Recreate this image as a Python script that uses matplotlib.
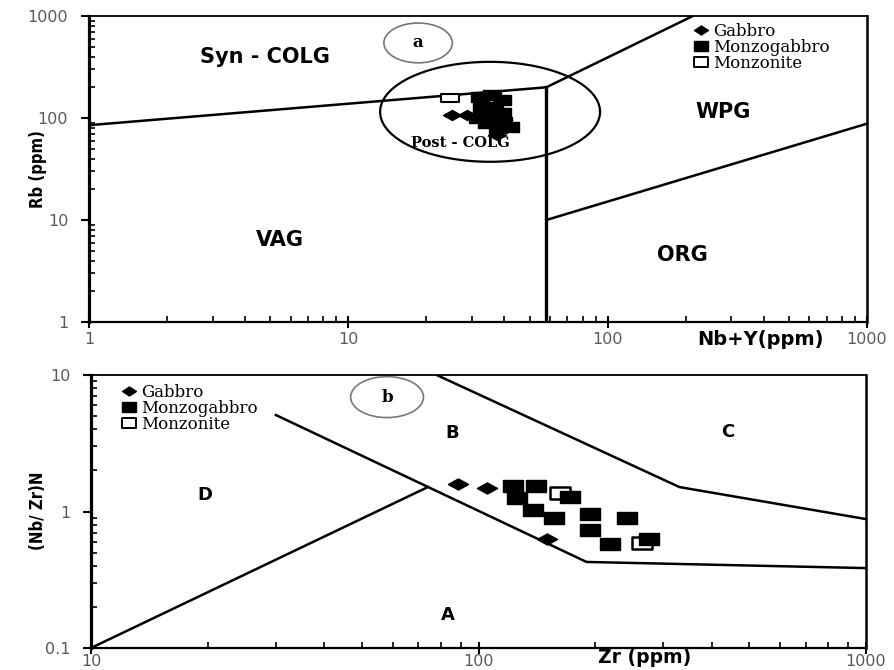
import numpy as np
import matplotlib
matplotlib.use('Agg')
import matplotlib.pyplot as plt
from matplotlib.path import Path
from matplotlib.patches import Ellipse
from matplotlib.lines import Line2D
from matplotlib.ticker import LogLocator, NullFormatter

# ---------------- Panel a : Rb vs Nb+Y ----------------
a_ticks = [1, 10, 100, 1000]
a_ticklabels = ['1', '10', '100', '1000']

a_gabbro_x = [25.0, 28.6, 37.3]
a_gabbro_y = [107, 107, 68]
a_monzogabbro_x = [32.2, 35.7, 32.7, 36.3, 31.7, 36.3, 39.6, 42.0, 34.2, 37.9, 39.0, 39.0]
a_monzogabbro_y = [162, 168, 124.5, 129, 99, 99, 92, 82, 89, 79, 150, 111]
a_monzonite_x = [24.7]
a_monzonite_y = [158]

# field boundaries (Pearce et al. 1984)
a_synvag_x, a_synvag_y = [1, 58], [85, 200]
a_synwpg_x, a_synwpg_y = [58, 213], [200, 1000]
a_vert_x, a_vert_y = [58, 58], [1, 200]
a_wpgorg_x, a_wpgorg_y = [58, 1000], [10, 88]
# post-COLG ellipse (centre, semi-axes in decades)
a_post_center = (35.2, 115)
a_post_semi = (0.424, 0.49)

# ---------------- Panel b : (Nb/Zr)N vs Zr ----------------
b_xticks = [10, 100, 1000]
b_xticklabels = ['10', '100', '1000']
b_yticks = [0.1, 1, 10]
b_yticklabels = ['0.1', '1', '10']

b_gabbro_x = [88.7, 105, 150]
b_gabbro_y = [1.58, 1.49, 0.63]
b_monzogabbro_x = [122.5, 141, 125.5, 172, 138, 157, 194, 242, 194, 218, 276]
b_monzogabbro_y = [1.54, 1.54, 1.26, 1.28, 1.02, 0.90, 0.96, 0.90, 0.73, 0.58, 0.625]
b_monzonite_x = [162, 264]
b_monzonite_y = [1.36, 0.59]

b_line1_x, b_line1_y = [30, 190, 1000], [5.09, 0.427, 0.385]
b_line2_x, b_line2_y = [78, 330, 1000], [10, 1.51, 0.88]
b_line3_x, b_line3_y = [10, 74], [0.1, 1.51]

legend_labels = ['Gabbro', 'Monzogabbro', 'Monzonite']

# ---------------- marker shapes ----------------
def rect_marker(h):
    return Path([(-1, -h), (1, -h), (1, h), (-1, h), (-1, -h)],
                [Path.MOVETO, Path.LINETO, Path.LINETO, Path.LINETO, Path.CLOSEPOLY])

def diamond_marker(h):
    return Path([(0, -h), (1, 0), (0, h), (-1, 0), (0, -h)],
                [Path.MOVETO, Path.LINETO, Path.LINETO, Path.LINETO, Path.CLOSEPOLY])

TICKC = '#5a5a5a'

fig = plt.figure(figsize=(8.94, 6.70), dpi=100)
ax1 = fig.add_axes([89/894, 1-322/670, 778/894, 306/670])
ax2 = fig.add_axes([91/894, 1-648/670, 775/894, 273/670])


def style(ax, xpad):
    ax.set_xscale('log')
    ax.set_yscale('log')
    ax.spines['left'].set_linewidth(2.3)
    ax.spines['bottom'].set_linewidth(1.6)
    ax.spines['top'].set_linewidth(1.3)
    ax.spines['right'].set_linewidth(1.8)
    ax.xaxis.set_minor_locator(LogLocator(base=10, subs=range(2, 10)))
    ax.yaxis.set_minor_locator(LogLocator(base=10, subs=range(2, 10)))
    ax.xaxis.set_minor_formatter(NullFormatter())
    ax.yaxis.set_minor_formatter(NullFormatter())
    ax.tick_params(axis='x', which='major', direction='inout', length=8, width=1.5,
                   labelsize=11.5, labelcolor=TICKC, pad=xpad)
    ax.tick_params(axis='x', which='minor', direction='in', length=4, width=1.2)
    ax.tick_params(axis='y', which='major', direction='out', length=6, width=1.5,
                   labelsize=11.5, labelcolor=TICKC, pad=9)
    ax.tick_params(axis='y', which='minor', direction='in', length=4.5, width=1.2)

style(ax1, 3)
style(ax2, 0.5)

# ---------- panel a ----------
ax1.set_xlim(1, 1000)
ax1.set_ylim(1, 1000)
ax1.set_xticks(a_ticks, a_ticklabels)
ax1.set_yticks(a_ticks, a_ticklabels)

lw = 1.8
ax1.plot(a_synvag_x, a_synvag_y, color='black', lw=lw)
ax1.plot(a_synwpg_x, a_synwpg_y, color='black', lw=lw)
ax1.plot(a_vert_x, a_vert_y, color='black', lw=2.4)
ax1.plot(a_wpgorg_x, a_wpgorg_y, color='black', lw=lw)
t = np.linspace(0, 2*np.pi, 300)
ex = 10 ** (np.log10(a_post_center[0]) + a_post_semi[0] * np.cos(t))
ey = 10 ** (np.log10(a_post_center[1]) + a_post_semi[1] * np.sin(t))
ax1.plot(ex, ey, color='black', lw=1.6)

ms_a = 13
ax1.plot(a_monzonite_x, a_monzonite_y, ls='none', marker=rect_marker(0.45), ms=ms_a,
         mfc='white', mec='black', mew=1.5, zorder=3)
ax1.plot(a_monzogabbro_x, a_monzogabbro_y, ls='none', marker=rect_marker(0.55), ms=ms_a,
         mfc='black', mec='black', zorder=4)
ax1.plot(a_gabbro_x, a_gabbro_y, ls='none', marker=diamond_marker(0.55), ms=ms_a,
         mfc='black', mec='black', zorder=4)

ax1.text(4.77, 396, 'Syn - COLG', fontsize=15, fontweight='bold', ha='center', va='center')
ax1.text(5.45, 6.37, 'VAG', fontsize=15, fontweight='bold', ha='center', va='center')
ax1.text(279, 114, 'WPG', fontsize=15, fontweight='bold', ha='center', va='center')
ax1.text(194, 4.54, 'ORG', fontsize=15, fontweight='bold', ha='center', va='center')
ax1.text(27, 56.9, 'Post - COLG', fontsize=10.5, fontweight='bold', family='DejaVu Serif',
         ha='center', va='center')
ax1.add_patch(Ellipse((0.423, 0.912), 0.088, 0.13, transform=ax1.transAxes,
                      fill=False, ec='#777777', lw=1.2))
ax1.text(0.423, 0.912, 'a', transform=ax1.transAxes, fontsize=12, fontweight='bold',
         family='DejaVu Serif', ha='center', va='center')
ax1.text(0.8625, -0.058, 'Nb+Y(ppm)', transform=ax1.transAxes, fontsize=14,
         fontweight='bold', ha='center', va='center')
fig.text(38/894, 1-169/670, 'Rb (ppm)', rotation=90, fontsize=12, fontweight='bold',
         fontstretch='condensed', ha='center', va='center')

# ---------- panel b ----------
ax2.set_xlim(10, 1000)
ax2.set_ylim(0.1, 10)
ax2.set_xticks(b_xticks, b_xticklabels)
ax2.set_yticks(b_yticks, b_yticklabels)

ax2.plot(b_line1_x, b_line1_y, color='black', lw=lw)
ax2.plot(b_line2_x, b_line2_y, color='black', lw=lw)
ax2.plot(b_line3_x, b_line3_y, color='black', lw=lw)

ms_b = 14.5
ax2.plot(b_monzonite_x, b_monzonite_y, ls='none', marker=rect_marker(0.55), ms=ms_b,
         mfc='white', mec='black', mew=1.8, zorder=3)
ax2.plot(b_monzogabbro_x, b_monzogabbro_y, ls='none', marker=rect_marker(0.58), ms=ms_b,
         mfc='black', mec='black', zorder=4)
ax2.plot(b_gabbro_x, b_gabbro_y, ls='none', marker=diamond_marker(0.55), ms=ms_b,
         mfc='black', mec='black', zorder=4)

ax2.text(85.5, 3.76, 'B', fontsize=13, fontweight='bold', ha='center', va='center')
ax2.text(440, 3.82, 'C', fontsize=13, fontweight='bold', ha='center', va='center')
ax2.text(19.7, 1.32, 'D', fontsize=13, fontweight='bold', ha='center', va='center')
ax2.text(83.4, 0.174, 'A', fontsize=13, fontweight='bold', ha='center', va='center')
ax2.add_patch(Ellipse((0.382, 0.919), 0.094, 0.15, transform=ax2.transAxes,
                      fill=False, ec='#777777', lw=1.2))
ax2.text(0.382, 0.919, 'b', transform=ax2.transAxes, fontsize=12, fontweight='bold',
         family='DejaVu Serif', ha='center', va='center')
ax2.text(0.715, -0.036, 'Zr (ppm)', transform=ax2.transAxes, fontsize=13.5,
         fontweight='bold', ha='center', va='center')
fig.text(38/894, 1-511/670, '(Nb/ Zr)N', rotation=90, fontsize=12, fontweight='bold',
         fontstretch='condensed', ha='center', va='center')

# ---------- legends ----------
def legend_handles():
    return [Line2D([], [], ls='none', marker=diamond_marker(0.65), ms=10, mfc='black', mec='black'),
            Line2D([], [], ls='none', marker=rect_marker(0.7), ms=10, mfc='black', mec='black'),
            Line2D([], [], ls='none', marker=rect_marker(0.7), ms=10, mfc='white', mec='black', mew=1.4)]

leg_font = {'family': 'DejaVu Serif', 'size': 12}
ax1.legend(legend_handles(), legend_labels, loc='upper left', bbox_to_anchor=(0.776, 0.978),
           frameon=False, handlelength=1.0, handletextpad=0.25, labelspacing=-0.05,
           borderpad=0, borderaxespad=0, prop=leg_font)
ax2.legend(legend_handles(), legend_labels, loc='upper left', bbox_to_anchor=(0.038, 0.968),
           frameon=False, handlelength=1.0, handletextpad=0.25, labelspacing=-0.05,
           borderpad=0, borderaxespad=0, prop=leg_font)

fig.savefig('out.png', dpi=100)
